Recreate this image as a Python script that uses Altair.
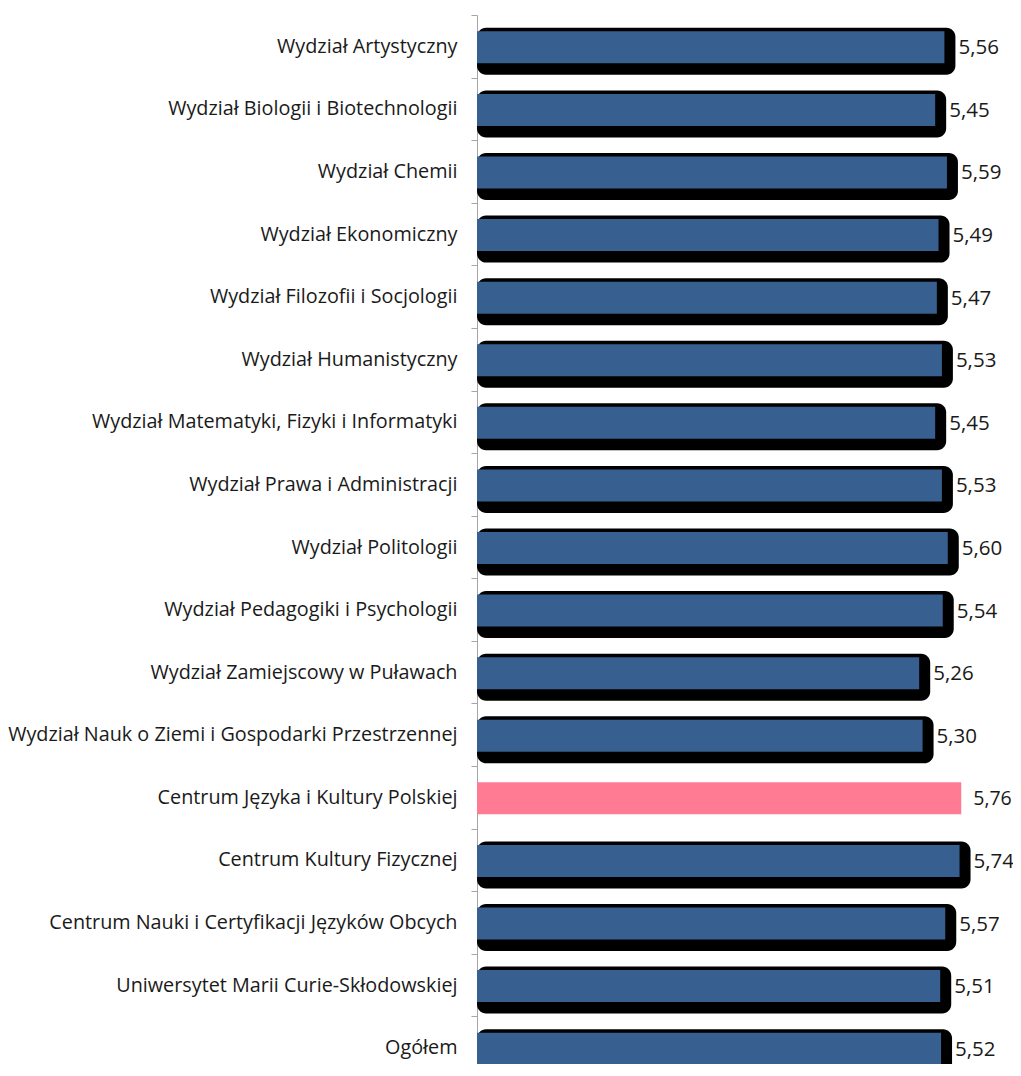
import altair as alt
import pandas as pd

categories = [
    "Wydział Artystyczny",
    "Wydział Biologii i Biotechnologii",
    "Wydział Chemii",
    "Wydział Ekonomiczny",
    "Wydział Filozofii i Socjologii",
    "Wydział Humanistyczny",
    "Wydział Matematyki, Fizyki i Informatyki",
    "Wydział Prawa i Administracji",
    "Wydział Politologii",
    "Wydział Pedagogiki i Psychologii",
    "Wydział Zamiejscowy w Puławach",
    "Wydział Nauk o Ziemi i Gospodarki Przestrzennej",
    "Centrum Języka i Kultury Polskiej",
    "Centrum Kultury Fizycznej",
    "Centrum Nauki i Certyfikacji Języków Obcych",
    "Uniwersytet Marii Curie-Skłodowskiej",
    "Ogółem",
]
values = [5.56, 5.45, 5.59, 5.49, 5.47, 5.53, 5.45, 5.53, 5.60, 5.54,
          5.26, 5.30, 5.76, 5.74, 5.57, 5.51, 5.52]
highlighted = ["Centrum Języka i Kultury Polskiej"]

df = pd.DataFrame({"cat": categories, "val": values})
df["hl"] = df["cat"].isin(highlighted)
df["label"] = df["val"].map(lambda v: f"{v:.2f}".replace(".", ","))
df["base"] = 0.0

BLUE = "#375F90"
PINK = "#FF7A93"

x_scale = alt.Scale(domain=[0, 5.9], nice=False, zero=True)

y_enc = alt.Y(
    "cat:N",
    sort=categories,
    title=None,
    scale=alt.Scale(domain=categories, paddingInner=0, paddingOuter=0),
    axis=alt.Axis(
        tickBand="extent",
        domainColor="#a6a6a6",
        tickColor="#a6a6a6",
        tickSize=6,
        labelPadding=14,
        labelFontSize=19.8,
        labelFont="Open Sans",
        labelColor="#1a1a1a",
        labelLimit=0,
        grid=False,
    ),
)
x_enc = alt.X("val:Q", scale=x_scale, axis=None, stack=None)

base = alt.Chart(df)

shadow = base.transform_filter("!datum.hl").mark_bar(
    color="black", size=47, yOffset=5, x2Offset=11, cornerRadius=9
).encode(
    x=alt.X("base:Q", scale=x_scale, axis=None, stack=None),
    x2=alt.X2("val:Q"),
    y=y_enc,
)

bars = base.mark_bar(size=32, yOffset=1).encode(
    x=x_enc,
    y=y_enc,
    color=alt.condition("datum.hl", alt.value(PINK), alt.value(BLUE)),
)

text_other = base.transform_filter("!datum.hl").mark_text(
    align="left", baseline="middle", dx=14, dy=2, fontSize=20.5, font="Open Sans", color="#1a1a1a"
).encode(x=x_enc, y=y_enc, text="label:N")

text_hl = base.transform_filter("datum.hl").mark_text(
    align="left", baseline="middle", dx=12, dy=2, fontSize=19.5, font="Open Sans", color="#1a1a1a"
).encode(x=x_enc, y=y_enc, text="label:N")

chart = (
    alt.layer(shadow, bars, text_other, text_hl)
    .properties(
        width=496,
        height=1064,
        autosize=alt.AutoSizeParams(type="none"),
        padding={"left": 469, "top": 7, "right": 40, "bottom": -15},
    )
    .configure_view(stroke=None)
)

chart.save("out.html", embed_options={"renderer": "svg", "actions": False})
